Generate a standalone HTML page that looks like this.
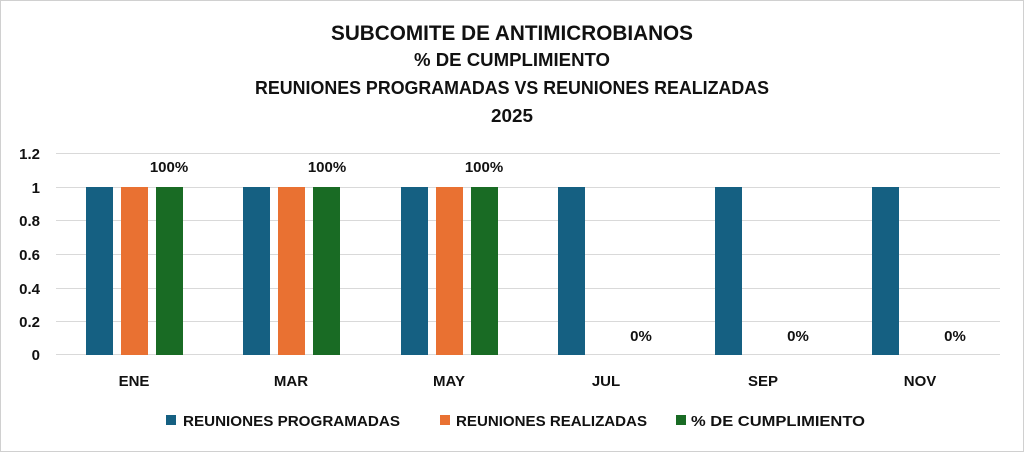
<!DOCTYPE html>
<html><head><meta charset="utf-8"><style>
html,body{margin:0;padding:0;background:#fff}
svg{display:block}
text{font-family:"Liberation Sans",sans-serif;font-weight:bold;fill:#111}
</style></head><body>
<svg width="1024" height="452" viewBox="0 0 1024 452">
<rect x="0.5" y="0.5" width="1023" height="451" fill="#fff" stroke="#d0d0d0"/>
<g text-anchor="middle">
<text x="512" y="40" font-size="21" textLength="362" lengthAdjust="spacingAndGlyphs">SUBCOMITE DE ANTIMICROBIANOS</text>
<text x="512" y="66" font-size="18" textLength="196" lengthAdjust="spacingAndGlyphs">% DE CUMPLIMIENTO</text>
<text x="512" y="94" font-size="18" textLength="514" lengthAdjust="spacingAndGlyphs">REUNIONES PROGRAMADAS VS REUNIONES REALIZADAS</text>
<text x="512" y="122" font-size="18" textLength="42" lengthAdjust="spacingAndGlyphs">2025</text>
</g>
<g stroke="#d9d9d9" stroke-width="1">
<line x1="56" x2="1000" y1="153.5" y2="153.5"/>
<line x1="56" x2="1000" y1="187.5" y2="187.5"/>
<line x1="56" x2="1000" y1="220.5" y2="220.5"/>
<line x1="56" x2="1000" y1="254.5" y2="254.5"/>
<line x1="56" x2="1000" y1="288.5" y2="288.5"/>
<line x1="56" x2="1000" y1="321.5" y2="321.5"/>
<line x1="56" x2="1000" y1="354.5" y2="354.5"/>
</g>
<g text-anchor="end" font-size="15">
<text x="40" y="159">1.2</text>
<text x="40" y="193">1</text>
<text x="40" y="226">0.8</text>
<text x="40" y="260">0.6</text>
<text x="40" y="294">0.4</text>
<text x="40" y="327">0.2</text>
<text x="40" y="360">0</text>
</g>
<g>
<rect x="86" y="187" width="27" height="168" fill="#156082"/>
<rect x="121" y="187" width="27" height="168" fill="#E97132"/>
<rect x="156" y="187" width="27" height="168" fill="#196B24"/>
<rect x="243" y="187" width="27" height="168" fill="#156082"/>
<rect x="278" y="187" width="27" height="168" fill="#E97132"/>
<rect x="313" y="187" width="27" height="168" fill="#196B24"/>
<rect x="401" y="187" width="27" height="168" fill="#156082"/>
<rect x="436" y="187" width="27" height="168" fill="#E97132"/>
<rect x="471" y="187" width="27" height="168" fill="#196B24"/>
<rect x="558" y="187" width="27" height="168" fill="#156082"/>
<rect x="715" y="187" width="27" height="168" fill="#156082"/>
<rect x="872" y="187" width="27" height="168" fill="#156082"/>
</g>
<g text-anchor="middle" font-size="15">
<text x="169" y="172">100%</text>
<text x="327" y="172">100%</text>
<text x="484" y="172">100%</text>
<text x="641" y="341">0%</text>
<text x="798" y="341">0%</text>
<text x="955" y="341">0%</text>
<text x="134" y="386">ENE</text>
<text x="291" y="386">MAR</text>
<text x="449" y="386">MAY</text>
<text x="606" y="386">JUL</text>
<text x="763" y="386">SEP</text>
<text x="920" y="386">NOV</text>
</g>
<rect x="166" y="415" width="10" height="10" fill="#156082"/>
<rect x="440" y="415" width="10" height="10" fill="#E97132"/>
<rect x="676" y="415" width="10" height="10" fill="#196B24"/>
<g font-size="15">
<text x="183" y="426" textLength="217" lengthAdjust="spacingAndGlyphs">REUNIONES PROGRAMADAS</text>
<text x="456" y="426" textLength="191" lengthAdjust="spacingAndGlyphs">REUNIONES REALIZADAS</text>
<text x="691" y="426" textLength="174" lengthAdjust="spacingAndGlyphs">% DE CUMPLIMIENTO</text>
</g>
</svg>
</body></html>
